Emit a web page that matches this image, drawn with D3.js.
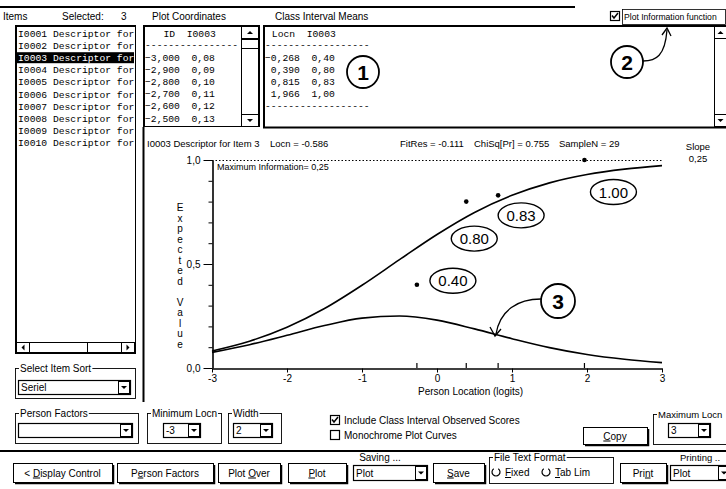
<!DOCTYPE html>
<html>
<head>
<meta charset="utf-8">
<script src="https://cdn.jsdelivr.net/npm/d3@7"></script>
<style>
body { margin: 0; background: #fff; }
svg text { font-family: "Liberation Sans", Arial, sans-serif; font-size: 10px; fill: #000; }
svg text.mono { font-family: "Liberation Mono", "Courier New", monospace; font-size: 9.7px; white-space: pre; }
</style>
</head>
<body>
<svg id="chart" width="726" height="489"></svg>
<script>
// ---- data ----
const itemIds = ['I0001', 'I0002', 'I0003', 'I0004', 'I0005', 'I0006', 'I0007', 'I0008', 'I0009', 'I0010'];
const itemDescriptor = 'Descriptor for';
const selectedItem = 'I0003';
const selectedCount = 3;

// Plot Coordinates list (first visible rows)
const coordLocn = [-3.0, -2.9, -2.8, -2.7, -2.6, -2.5];
const coordValue = [0.08, 0.09, 0.10, 0.11, 0.12, 0.13];

// Class interval means (observed scores)
const ciLocn = [-0.268, 0.390, 0.815, 1.966];
const ciMean = [0.40, 0.80, 0.83, 1.00];

// expected value curve and information function, read at half-logit steps
const curveLocn = [-3, -2.5, -2, -1.5, -1, -0.5, 0, 0.5, 1, 1.5, 2, 2.5, 3];
const expectedValue = [0.082, 0.129, 0.196, 0.286, 0.398, 0.521, 0.642, 0.748, 0.830, 0.890, 0.930, 0.956, 0.973];
const information = [0.075, 0.112, 0.157, 0.204, 0.240, 0.250, 0.230, 0.188, 0.141, 0.098, 0.065, 0.042, 0.026];

const xTicks = [-3, -2, -1, 0, 1, 2, 3];
const yTicks = [0, 0.1, 0.2, 0.3, 0.4, 0.5, 0.6, 0.7, 0.8, 0.9, 1.0];
const yLabelTicks = [0, 0.5, 1.0];

const itemLocn = -0.586;
const fitRes = -0.111;
const chiSqPr = 0.755;
const sampleN = 29;
const slope = 0.25;
const maxInformation = 0.25;

// ---- helpers ----
const comma = d3.formatLocale({ decimal: ',', thousands: '.', grouping: [3], currency: ['', ''] });
const f3 = comma.format('.3f'), f2 = comma.format('.2f'), f1 = comma.format('.1f');
const dot3 = v => v.toFixed(3);

const svg = d3.select('#chart');

function txt(g, x, y, s, anchor) {
    return g.append('text').attr('x', x).attr('y', y).attr('text-anchor', anchor || 'start').text(s);
}

// label with one underlined accelerator letter
function mnemonic(g, x, y, label, u, anchor) {
    const t = g.append('text').attr('x', x).attr('y', y).attr('text-anchor', anchor || 'middle');
    if (u < 0) { t.text(label); return t; }
    t.append('tspan').text(label.slice(0, u));
    t.append('tspan').style('text-decoration', 'underline').text(label[u]);
    t.append('tspan').text(label.slice(u + 1));
    return t;
}

function box(g, x, y, w, h, sw) {
    return g.append('rect').attr('x', x + 0.5).attr('y', y + 0.5).attr('width', w).attr('height', h)
        .attr('fill', '#fff').attr('stroke', '#000').attr('stroke-width', sw || 1);
}

function button(x, y, w, h, label, u) {
    const g = svg.append('g');
    box(g, x, y, w, h);
    g.append('path').attr('d', `M${x + 2},${y + h + 1.5}H${x + w + 1.5}V${y + 2}`)
        .attr('fill', 'none').attr('stroke', '#000').attr('stroke-width', 1.5);
    mnemonic(g, x + w / 2, y + h / 2 + 4, label, u);
}

function arrowBox(g, x, y, w, h, dir) {
    box(g, x, y, w, h);
    const cx = x + w / 2 + 0.5, cy = y + h / 2 + 0.5;
    const pts = {
        down: [[cx - 3, cy - 1.5], [cx + 3, cy - 1.5], [cx, cy + 1.5]],
        up: [[cx - 3, cy + 1.5], [cx + 3, cy + 1.5], [cx, cy - 1.5]],
        left: [[cx + 1.5, cy - 3], [cx + 1.5, cy + 3], [cx - 1.5, cy]],
        right: [[cx - 1.5, cy - 3], [cx - 1.5, cy + 3], [cx + 1.5, cy]]
    }[dir];
    g.append('polygon').attr('points', pts.map(p => p.join(',')).join(' ')).attr('fill', '#000');
}

function combo(x, y, w, h, value) {
    const g = svg.append('g');
    box(g, x, y, w, h, 1.2);
    if (value) txt(g, x + 3, y + h / 2 + 4, value);
    arrowBox(g, x + w - 12, y + 1, 11, h - 2, 'down');
}

function group(x, y, w, h, label) {
    const g = svg.append('g');
    g.append('rect').attr('x', x + 0.5).attr('y', y + 0.5).attr('width', w).attr('height', h)
        .attr('fill', 'none').attr('stroke', '#000').attr('stroke-width', 0.9);
    const t = txt(g, x + 5, y + 4, label);
    const bb = t.node().getBBox();
    g.insert('rect', 'text').attr('x', bb.x - 1).attr('y', bb.y).attr('width', bb.width + 2)
        .attr('height', bb.height).attr('fill', '#fff');
    return t;
}

function checkbox(x, y, checked, label) {
    const g = svg.append('g');
    box(g, x, y, 9, 9, 1.2);
    if (checked) {
        g.append('path').attr('d', `M${x + 2},${y + 4.5}L${x + 4},${y + 7}L${x + 8},${y + 2}`)
            .attr('fill', 'none').attr('stroke', '#000').attr('stroke-width', 1.5);
    }
    if (label) txt(g, x + 14, y + 8.5, label);
}

function radio(x, y, label, u) {
    const g = svg.append('g');
    const r = 4;
    g.append('path')
        .attr('d', d3.arc()({ innerRadius: r, outerRadius: r, startAngle: 0.6, endAngle: 2 * Math.PI - 0.6 }))
        .attr('transform', `translate(${x},${y})`)
        .attr('fill', 'none').attr('stroke', '#000').attr('stroke-width', 1.2);
    mnemonic(g, x + 9, y + 4, label, u, 'start');
}

// ---- window chrome ----
svg.append('line').attr('x1', 0).attr('x2', 575).attr('y1', 7).attr('y2', 7)
    .attr('stroke', '#000').attr('stroke-width', 2);

const header = svg.append('g');
txt(header, 3, 20, 'Items');
txt(header, 62, 20, 'Selected:');
txt(header, 121, 20, String(selectedCount));
txt(header, 152, 20, 'Plot Coordinates');
txt(header, 275, 20, 'Class Interval Means');
checkbox(610, 11, true);
header.append('rect').attr('x', 622.5).attr('y', 9.5).attr('width', 103).attr('height', 15)
    .attr('fill', 'none').attr('stroke', '#000').attr('stroke-width', 0.8);
txt(header, 624, 20, 'Plot Information function').style('font-size', '8.6px');

// items list
const items = svg.append('g');
box(items, 15, 25, 120, 328, 1);
items.append('path').attr('d', 'M16,353V26H135').attr('fill', 'none').attr('stroke', '#000').attr('stroke-width', 2);
const rowH = 12.1;
items.selectAll('rect.sel').data(itemIds.filter(d => d === selectedItem)).join('rect')
    .attr('x', 17).attr('y', (d) => 28 + itemIds.indexOf(d) * rowH).attr('width', 117).attr('height', 11)
    .attr('fill', '#000');
items.selectAll('text.item').data(itemIds).join('text')
    .attr('class', 'mono').attr('x', 18).attr('y', (d, i) => 37 + i * rowH)
    .style('fill', d => d === selectedItem ? '#fff' : '#000')
    .text(d => `${d} ${itemDescriptor}`);
// horizontal scrollbar
box(items, 16, 342, 118, 10, 1);
arrowBox(items, 16, 342, 13, 10, 'left');
box(items, 29, 342, 58, 10, 1);
arrowBox(items, 121, 342, 13, 10, 'right');

// select item sort
group(15, 368, 120, 30, 'Select Item Sort');
combo(18, 380, 112, 14, 'Seriel');

// plot coordinates list
const pc = svg.append('g');
box(pc, 143, 25, 116, 101, 1);
pc.append('path').attr('d', 'M144,126V26H259').attr('fill', 'none').attr('stroke', '#000').attr('stroke-width', 2);
pc.append('text').attr('class', 'mono').attr('x', 146).attr('y', 37).text(`   ID  ${selectedItem}`);
pc.append('text').attr('class', 'mono').attr('x', 145).attr('y', 48).text('----------------');
pc.selectAll('text.row').data(coordLocn).join('text')
    .attr('class', 'mono').attr('x', 145).attr('y', (d, i) => 61 + i * rowH)
    .text((d, i) => `${f3(d).padStart(6)}  ${f2(coordValue[i])}`);
box(pc, 241, 26, 17, 100, 1);
arrowBox(pc, 241, 26, 17, 12, 'up');
box(pc, 241, 39, 17, 9, 1);
arrowBox(pc, 241, 114, 17, 12, 'down');

// class interval means
const ci = svg.append('g');
box(ci, 263, 25, 470, 102, 1);
ci.append('path').attr('d', 'M264,127V26H726').attr('fill', 'none').attr('stroke', '#000').attr('stroke-width', 2);
ci.append('line').attr('x1', 263).attr('x2', 726).attr('y1', 127.5).attr('y2', 127.5).attr('stroke', '#000').attr('stroke-width', 2);
ci.append('text').attr('class', 'mono').attr('x', 266).attr('y', 37).text(` Locn  ${selectedItem}`);
ci.append('text').attr('class', 'mono').attr('x', 265).attr('y', 48).text('------------------');
ci.selectAll('text.row').data(ciLocn).join('text')
    .attr('class', 'mono').attr('x', 265).attr('y', (d, i) => 61 + i * rowH)
    .text((d, i) => `${f3(d).padStart(6)}  ${f2(ciMean[i])}`);
ci.append('text').attr('class', 'mono').attr('x', 265).attr('y', 61 + ciLocn.length * rowH).text('------------------');
box(ci, 714, 26, 12, 101, 1);
arrowBox(ci, 714, 26, 12, 12, 'up');
arrowBox(ci, 714, 114, 12, 12, 'down');

// plot panel left border
svg.append('line').attr('x1', 143.5).attr('x2', 143.5).attr('y1', 127).attr('y2', 402)
    .attr('stroke', '#000').attr('stroke-width', 2);

// ---- the chart ----
const x = d3.scaleLinear().domain([-3, 3]).range([212, 662]);
const y = d3.scaleLinear().domain([0, 1]).range([368, 160]);
const plot = svg.append('g');

const head = plot.append('g');
txt(head, 147, 147, `${selectedItem} Descriptor for Item 3`).style('font-size', '9.5px');
txt(head, 270, 147, `Locn = ${dot3(itemLocn)}`).style('font-size', '9.5px');
txt(head, 400, 147, `FitRes = ${dot3(fitRes)}`).style('font-size', '9.5px');
txt(head, 474, 147, `ChiSq[Pr] = ${dot3(chiSqPr)}`).style('font-size', '9.5px');
txt(head, 559, 147, `SampleN = ${sampleN}`).style('font-size', '9.5px');
txt(head, 698, 150, 'Slope', 'middle').style('font-size', '9.5px');
txt(head, 698, 162, f2(slope), 'middle').style('font-size', '9.5px');

// 1.0 reference line
plot.append('line').attr('x1', x(-3)).attr('x2', x(3)).attr('y1', y(1) + 0.5).attr('y2', y(1) + 0.5)
    .attr('stroke', '#000').attr('stroke-dasharray', '1.5,2');
txt(plot, x(-3) + 5, y(1) + 10, `Maximum Information= ${f2(maxInformation)}`).style('font-size', '9px');

// axes
const xAxis = plot.append('g').attr('transform', `translate(0,${y(0) + 0.5})`)
    .call(d3.axisBottom(x).tickValues(xTicks).tickSize(4).tickSizeOuter(0).tickPadding(2).tickFormat(d => String(d)));
xAxis.select('.domain').attr('stroke-width', 1.6);
plot.selectAll('line.ci-tick').data(ciLocn).join('line')
    .attr('x1', d => x(d)).attr('x2', d => x(d)).attr('y1', y(0)).attr('y2', y(0) - 5)
    .attr('stroke', '#000').attr('stroke-width', 1.2);

const isLabel = d => yLabelTicks.some(v => Math.abs(v - d) < 1e-9);
const yAxis = plot.append('g').attr('transform', `translate(${x(-3) + 0.5},0)`)
    .call(d3.axisLeft(y).tickValues(yTicks).tickSize(4).tickSizeOuter(0).tickFormat(d => isLabel(d) ? f1(d) : ''));
yAxis.select('.domain').attr('stroke-width', 1.6);
yAxis.selectAll('.tick').filter(isLabel).select('line').attr('x2', -9);
yAxis.selectAll('.tick').filter(isLabel).select('text').attr('x', -12);

txt(plot, (x(0) + x(1)) / 2 - 4, 395, 'Person Location (logits)', 'middle');

// vertical axis title, one letter per row
const yTitle = 'Expected Value'.split('');
plot.selectAll('text.ytitle').data(yTitle).join('text')
    .attr('x', 180).attr('y', (d, i) => 211 + i * 10.5).attr('text-anchor', 'middle')
    .text(d => d);

// curves
const line = d3.line().x(d => x(d[0])).y(d => y(d[1])).curve(d3.curveMonotoneX);
plot.append('path').datum(curveLocn.map((v, i) => [v, expectedValue[i]]))
    .attr('d', line).attr('fill', 'none').attr('stroke', '#000').attr('stroke-width', 1.6);
plot.append('path').datum(curveLocn.map((v, i) => [v, information[i]]))
    .attr('d', line).attr('fill', 'none').attr('stroke', '#000').attr('stroke-width', 1.6);

// observed class interval means
plot.selectAll('circle.obs').data(ciLocn).join('circle')
    .attr('cx', d => x(d)).attr('cy', (d, i) => y(ciMean[i])).attr('r', 2.3).attr('fill', '#000');

// ---- callouts ----
const ciLabelOffset = [[36, -4], [8, 37], [23, 20], [29, 32]];
const callouts = svg.append('g');
ciLocn.forEach((d, i) => {
    const cx = x(d) + ciLabelOffset[i][0], cy = y(ciMean[i]) + ciLabelOffset[i][1];
    callouts.append('ellipse').attr('cx', cx).attr('cy', cy).attr('rx', 23).attr('ry', 12.5)
        .attr('fill', '#fff').attr('stroke', '#000').attr('stroke-width', 1.4);
    callouts.append('text').attr('x', cx).attr('y', cy + 5.5).attr('text-anchor', 'middle')
        .style('font-size', '15px')
        .text(ciMean[i].toFixed(2));
});

const numbered = [
    { n: '1', cx: 363, cy: 72, r: 16 },
    { n: '2', cx: 627, cy: 62, r: 16 },
    { n: '3', cx: 558, cy: 301, r: 17 }
];
numbered.forEach(c => {
    callouts.append('circle').attr('cx', c.cx).attr('cy', c.cy).attr('r', c.r)
        .attr('fill', '#fff').attr('stroke', '#000').attr('stroke-width', 1.8);
    callouts.append('text').attr('x', c.cx).attr('y', c.cy + 7.5).attr('text-anchor', 'middle')
        .style('font-size', '21px').style('font-weight', 'bold').text(c.n);
});
callouts.append('path').attr('d', 'M643,61C656,61 665,56 667,30')
    .attr('fill', 'none').attr('stroke', '#000').attr('stroke-width', 1.3);
callouts.append('path').attr('d', 'M662,35L667,28L671,36')
    .attr('fill', 'none').attr('stroke', '#000').attr('stroke-width', 1.3);
callouts.append('path').attr('d', 'M541,299C518,299 500,310 496,334')
    .attr('fill', 'none').attr('stroke', '#000').attr('stroke-width', 1.3);
callouts.append('path').attr('d', 'M490,327L495,336L501,329')
    .attr('fill', 'none').attr('stroke', '#000').attr('stroke-width', 1.3);

// ---- lower controls ----
group(15, 413, 123, 30, 'Person Factors');
combo(18, 423, 114, 14, '');
group(147, 413, 74, 30, 'Minimum Locn');
combo(163, 423, 37, 14, '-3');
group(228, 413, 53, 30, 'Width');
combo(233, 423, 39, 14, '2');

checkbox(330, 415, true, 'Include Class Interval Observed Scores');
checkbox(330, 430, false, 'Monochrome Plot Curves');
button(583, 427, 64, 17, 'Copy', 0);
group(653, 414, 80, 30, 'Maximum Locn').style('font-size', '9.5px');
combo(668, 423, 42, 14, '3');

svg.append('line').attr('x1', 0).attr('x2', 726).attr('y1', 451).attr('y2', 451)
    .attr('stroke', '#000').attr('stroke-width', 2);

button(13, 463, 99, 19, '< Display Control', 2);
button(117, 463, 96, 19, 'Person Factors', 1);
button(218, 463, 62, 19, 'Plot Over', 5);
button(288, 463, 58, 19, 'Plot', 0);
txt(svg, 380, 461, 'Saving ...', 'middle');
combo(353, 465, 74, 15, 'Plot');
button(433, 463, 51, 19, 'Save', 0);
group(489, 457, 124, 26, 'File Text Format');
radio(496, 472, 'Fixed', 0);
radio(546, 472, 'Tab Lim', 0);
button(620, 463, 46, 19, 'Print', 3);
txt(svg, 680, 461, 'Printing ..').style('font-size', '9.5px');
combo(670, 465, 60, 15, 'Plot');
</script>
</body>
</html>
